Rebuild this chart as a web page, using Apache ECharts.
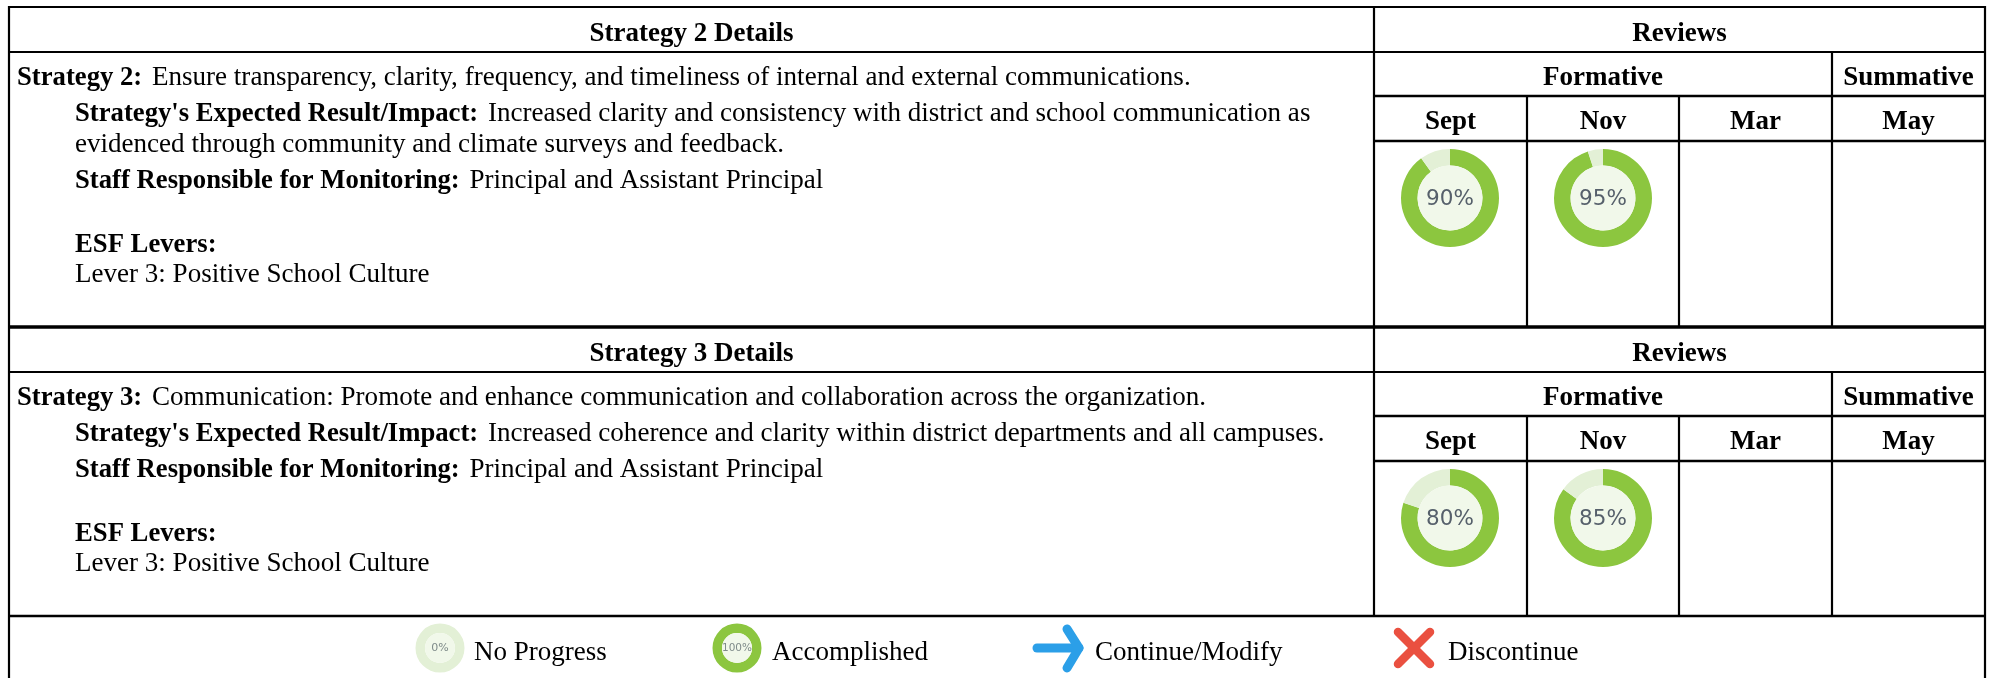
<!DOCTYPE html>
<html><head><meta charset="utf-8">
<style>html,body{margin:0;padding:0;background:#fff}#c{width:1995px;height:678px}</style>
<script src="https://cdn.jsdelivr.net/npm/echarts@6/dist/echarts.min.js"></script>
</head><body><div id="c"></div>
<script>
const reviewMonths = ['Sept','Nov','Mar','May'];
const strategy2Progress = [90,95];
const strategy3Progress = [80,85];
const legendNoProgress = 0;
const legendAccomplished = 100;
const legendLabels = ['No Progress','Accomplished','Continue/Modify','Discontinue'];
const detailTitles = ['Strategy 2 Details','Strategy 3 Details'];
const strategy2Text = ['Ensure transparency, clarity, frequency, and timeliness of internal and external communications.',
 'Increased clarity and consistency with district and school communication as','evidenced through community and climate surveys and feedback.'];
const strategy3Text = ['Communication: Promote and enhance communication and collaboration across the organization.',
 'Increased coherence and clarity within district departments and all campuses.'];
const staffText = 'Principal and Assistant Principal';
const leverText = 'Lever 3: Positive School Culture';

const GREEN='#8cc63f', PALE='#e3f0d6', CORE='#f1f8ea', F='"Liberation Serif","Times New Roman",serif';
const L=9,R=1985,M=1374,C=[1527,1679,1832];
const FS=27, FN=27.05, FB=26.7;
const g=[];
const line=(x1,y1,x2,y2,w=2.2,c='#000')=>g.push({type:'line',silent:true,z:5,shape:{x1,y1,x2,y2},style:{stroke:c,lineWidth:w,lineCap:'butt'}});
const txt=(x,y,text,o={})=>g.push({type:'text',silent:true,z:6,x,y,style:Object.assign({text,fill:'#000',font:`${o.b?'bold ':''}${o.s||FS}px ${F}`,align:o.a||'left',verticalAlign:'middle'},o.rich?{rich:o.rich}:{})});
const rich={b:{font:`bold ${FB}px ${F}`,fill:'#000'},n:{font:`${FN}px ${F}`,fill:'#000',padding:[0,0,0,3]}};
const mix=(x,y,b,n)=>txt(x,y,`{b|${b}} {n|${n}}`,{rich});

function block(top,title,label,t){
  line(L,top,R,top,top===7?2:3.6);
  line(L,top+45,R,top+45);
  line(M,top+89,R,top+89,2.4);
  line(M,top+134,R,top+134,2.4);
  txt((L+M)/2,top+27,title,{b:1,a:'center'});
  txt((M+R)/2,top+27,'Reviews',{b:1,a:'center'});
  txt((M+C[2])/2,top+71,'Formative',{b:1,a:'center'});
  txt((C[2]+R)/2,top+71,'Summative',{b:1,a:'center'});
  const xs=[M,...C,R];
  reviewMonths.forEach((m,i)=>txt((xs[i]+xs[i+1])/2,top+115,m,{b:1,a:'center'}));
  mix(17,top+71,label+':',t[0]);
  mix(75,top+107,"Strategy's Expected Result/Impact:",t[1]);
  let y=top+107;
  if(t[2]){y+=31;txt(75,y,t[2],{s:FN});}
  y+=36;
  mix(75,y,'Staff Responsible for Monitoring:',staffText);
  txt(75,y+64,'ESF Levers:',{b:1,s:FB});
  txt(75,y+94,leverText,{s:FN});
}
block(7,detailTitles[0],'Strategy 2',strategy2Text);
block(327,detailTitles[1],'Strategy 3',strategy3Text);
line(L,6,L,678,2.2);line(R,6,R,678,2.2);
line(M,6,M,616);
C.forEach((x,i)=>{line(x,i<2?96:52,x,327);line(x,i<2?416:372,x,616);});
line(L,616,R,616,2.4);

function ring(cx,cy,ro,ri,val,fs,col,dy){
  return [{
    type:'pie',silent:true,animation:false,center:[cx,cy],radius:[ri,ro],startAngle:90,clockwise:true,
    label:{show:false},labelLine:{show:false},emphasis:{disabled:true},
    data:[{value:val,itemStyle:{color:GREEN}},{value:100-val,itemStyle:{color:PALE}}]
  },{
    type:'pie',silent:true,animation:false,center:[cx,cy],radius:[0,ri],
    labelLine:{show:false},emphasis:{disabled:true},
    label:{show:true,position:'center',offset:[0,dy],formatter:val+'%',fontFamily:'"DejaVu Sans",sans-serif',fontSize:fs,color:col},
    data:[{value:1,itemStyle:{color:CORE}}]
  }];
}
const series=[];
const cols=[1450,1603];
strategy2Progress.forEach((v,i)=>series.push(...ring(cols[i],198,49,32.5,v,21.5,'#56606b',1.5)));
strategy3Progress.forEach((v,i)=>series.push(...ring(cols[i],518,49,32.5,v,21.5,'#56606b',1.5)));
series.push(...ring(440,648,24.5,15,legendNoProgress,11,'#7f8b8a',0));
series.push(...ring(737,648,24.5,15,legendAccomplished,10.5,'#7f8b8a',0));

txt(474,653,legendLabels[0]);
txt(772,653,legendLabels[1]);
txt(1095,653,legendLabels[2]);
txt(1448,653,legendLabels[3]);
const stroke=(points,c,w)=>g.push({type:'polyline',silent:true,z:6,shape:{points},style:{stroke:c,fill:null,lineWidth:w,lineCap:'round',lineJoin:'round'}});
stroke([[1037,648],[1079,648]],'#2b9fe8',9);
stroke([[1067,629],[1079,648],[1067,668]],'#2b9fe8',9);
stroke([[1398,632],[1430,664]],'#ea5040',8.5);
stroke([[1430,632],[1398,664]],'#ea5040',8.5);

echarts.init(document.getElementById('c'),null,{renderer:'canvas'}).setOption({animation:false,backgroundColor:'#fff',series,graphic:{elements:g}});
</script></body></html>
